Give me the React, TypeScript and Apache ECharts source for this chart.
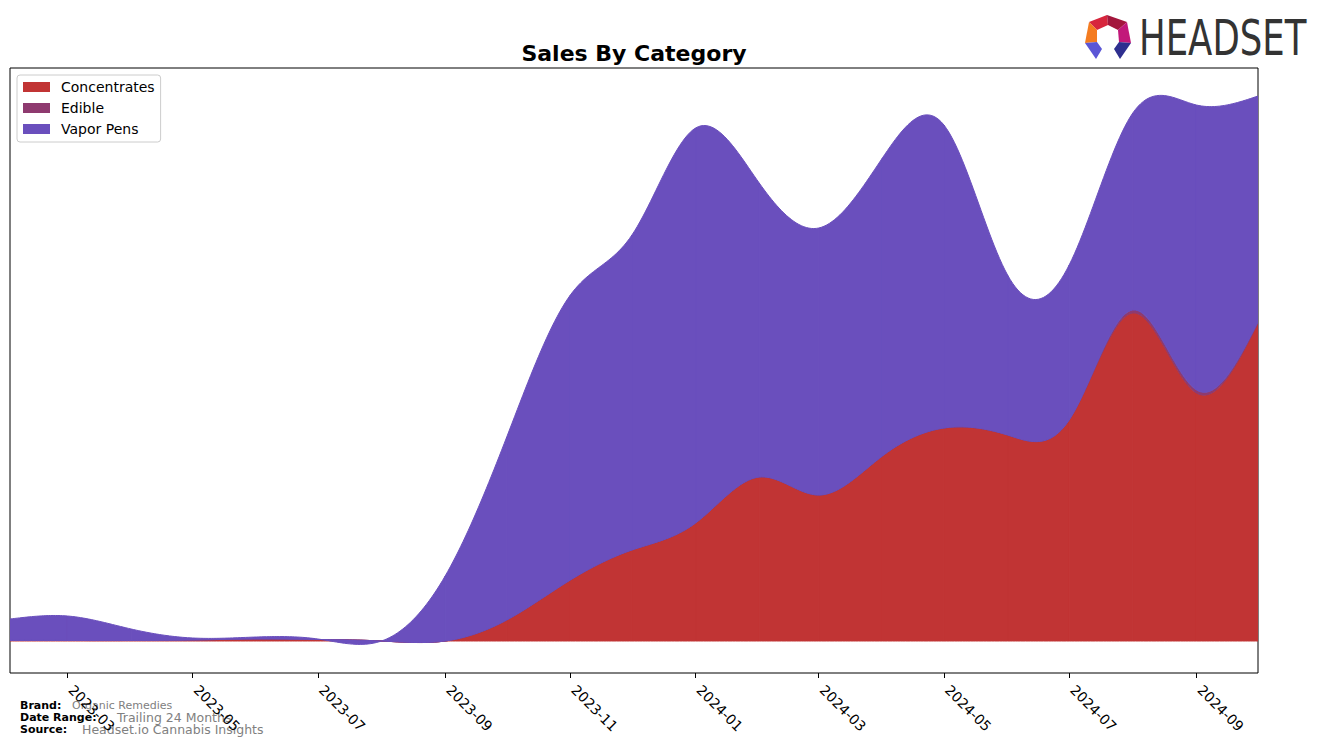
import React, { useEffect, useRef } from "react";
import * as echarts from "echarts";

const months = [
  "2023-02", "2023-03", "2023-04", "2023-05", "2023-06", "2023-07", "2023-08",
  "2023-09", "2023-10", "2023-11", "2023-12", "2024-01", "2024-02", "2024-03",
  "2024-04", "2024-05", "2024-06", "2024-07", "2024-08", "2024-09", "2024-10",
];
const concentrates = [0.5, 0.5, 0.5, 1, 2, 1.5, 0, 0, 21, 61, 91, 118, 164, 146, 185, 213, 206, 221, 328, 248, 318];
const edible = [0, 0, 0, 0, 0, 0, 0, 0, 0, 0, 0, 0, 0, 0, 0, 0, 0, 0, 3, 3, 1];
const vaporPens = [21.5, 24.5, 11.5, 2, 2, 0.5, 0, 65, 183, 285, 315, 395, 294, 267, 298, 303, 160, 155, 197, 285, 226];
const tickLabels = ["2023-03", "2023-05", "2023-07", "2023-09", "2023-11", "2024-01", "2024-03", "2024-05", "2024-07", "2024-09"];

const categoryNames = ["Concentrates", "Edible", "Vapor Pens"];
const categoryColors = ["#c13434", "#8e3a6f", "#6a4fbd"];

const toTime = (m: string) => {
  const [y, mo] = m.split("-").map(Number);
  return Date.UTC(y, mo - 1, 1);
};

// natural cubic spline second derivatives
function splineM(xs: number[], ys: number[]): number[] {
  const n = xs.length;
  const h: number[] = [];
  for (let i = 0; i < n - 1; i++) h.push(xs[i + 1] - xs[i]);
  const A: number[][] = Array.from({ length: n }, () => new Array(n + 1).fill(0));
  A[0][0] = 1;
  for (let i = 1; i < n - 1; i++) {
    A[i][i - 1] = h[i - 1];
    A[i][i] = 2 * (h[i - 1] + h[i]);
    A[i][i + 1] = h[i];
    A[i][n] = 6 * ((ys[i + 1] - ys[i]) / h[i] - (ys[i] - ys[i - 1]) / h[i - 1]);
  }
  A[n - 1][n - 1] = 1;
  for (let c = 0; c < n; c++) {
    let p = c;
    for (let r = c + 1; r < n; r++) if (Math.abs(A[r][c]) > Math.abs(A[p][c])) p = r;
    [A[c], A[p]] = [A[p], A[c]];
    for (let r = 0; r < n; r++) {
      if (r === c) continue;
      const f = A[r][c] / A[c][c];
      if (f === 0) continue;
      for (let k = c; k <= n; k++) A[r][k] -= f * A[c][k];
    }
  }
  return A.map((row, i) => row[n] / row[i]);
}

function splineAt(xs: number[], ys: number[], M: number[], i: number, x: number): number {
  const h = xs[i + 1] - xs[i];
  const a = xs[i + 1] - x;
  const b = x - xs[i];
  return (
    (M[i] * a * a * a) / (6 * h) +
    (M[i + 1] * b * b * b) / (6 * h) +
    (ys[i] / h - (M[i] * h) / 6) * a +
    (ys[i + 1] / h - (M[i + 1] * h) / 6) * b
  );
}

export default function App() {
  const ref = useRef<HTMLDivElement>(null);
  useEffect(() => {
    if (!ref.current) return;
    const chart = echarts.init(ref.current, undefined, { renderer: "svg" });
    const seriesData = [concentrates, edible, vaporPens];
    const font = '"DejaVu Sans", sans-serif';
    const tickValues = tickLabels.map(toTime);
    const times = months.map(toTime);
    const xMin = times[0];
    const xMax = times[times.length - 1];
    const xs = times.map((t) => t / 86400000);

    // cumulative boundaries for stacking
    const cum: number[][] = [];
    seriesData.forEach((arr, k) => {
      cum.push(arr.map((v, j) => v + (k > 0 ? cum[k - 1][j] : 0)));
    });
    const Ms = cum.map((ys) => splineM(xs, ys));
    const STEPS = 24;

    const series = categoryNames.map((name, k) => ({
      name,
      type: "custom",
      xAxisIndex: 0,
      clip: true,
      itemStyle: { color: categoryColors[k] },
      encode: { x: 0, y: 1 },
      data: months.map((m, j) => [times[j], seriesData[k][j]]),
      renderItem: (params: any, api: any) => {
        const i = params.dataIndex;
        if (i >= times.length - 1) return null;
        const upper: number[][] = [];
        const lower: number[][] = [];
        for (let s = 0; s <= STEPS; s++) {
          const x = xs[i] + ((xs[i + 1] - xs[i]) * s) / STEPS;
          const t = x * 86400000;
          const yu = splineAt(xs, cum[k], Ms[k], i, x);
          const yl = k > 0 ? splineAt(xs, cum[k - 1], Ms[k - 1], i, x) : 0;
          upper.push(api.coord([t, yu]));
          lower.push(api.coord([t, yl]));
        }
        const points = upper.concat(lower.reverse());
        return {
          type: "polygon",
          shape: { points },
          style: { fill: categoryColors[k], stroke: categoryColors[k], lineWidth: 1 },
        };
      },
    }));

    chart.setOption({
      animation: false,
      backgroundColor: "#ffffff",
      grid: {
        left: 10,
        top: 68,
        width: 1248,
        height: 605,
        show: true,
        borderColor: "#000",
        borderWidth: 1,
        backgroundColor: "#fff",
        containLabel: false,
      },
      legend: {
        orient: "vertical",
        left: 17,
        top: 75,
        padding: [5, 6, 6, 6],
        itemGap: 7,
        itemWidth: 27,
        itemHeight: 10,
        icon: "rect",
        borderColor: "#cccccc",
        borderWidth: 1,
        borderRadius: 3,
        backgroundColor: "rgba(255,255,255,0.8)",
        textStyle: { fontFamily: font, fontSize: 14, color: "#000", padding: [0, 0, 0, 6] },
        data: categoryNames,
      },
      xAxis: [
        {
          type: "time",
          min: xMin,
          max: xMax,
          axisLine: { show: false },
          axisTick: { show: false },
          axisLabel: { show: false },
          splitLine: { show: false },
        },
        {
          type: "value",
          position: "bottom",
          min: xMin,
          max: xMax,
          axisLine: { show: false },
          splitLine: { show: false },
          axisTick: {
            show: true,
            customValues: tickValues,
            length: 5,
            lineStyle: { color: "#000", width: 1 },
          },
          axisLabel: {
            customValues: tickValues,
            rotate: -45,
            margin: 11,
            padding: [0, 0, 0, 5],
            fontFamily: font,
            fontSize: 14,
            color: "#000",
            formatter: (v: number) => {
              const d = new Date(v);
              const mm = String(d.getUTCMonth() + 1).padStart(2, "0");
              return `${d.getUTCFullYear()}-${mm}`;
            },
          },
        },
      ],
      yAxis: {
        type: "value",
        min: -32,
        max: 573,
        show: false,
        splitLine: { show: false },
      },
      series,
      graphic: [
        {
          type: "text",
          x: 634,
          y: 53,
          style: {
            text: "Sales By Category",
            font: `bold 22px ${font}`,
            fill: "#000",
            textAlign: "center",
            textVerticalAlign: "middle",
          },
        },
        { type: "polygon", shape: { points: [[1089, 22], [1107, 15], [1108, 25], [1097, 30]] }, style: { fill: "#d7263d" } },
        { type: "polygon", shape: { points: [[1107, 15], [1127, 22], [1118, 30], [1108, 25]] }, style: { fill: "#a3163c" } },
        { type: "polygon", shape: { points: [[1089, 22], [1097, 30], [1097, 42], [1085, 43]] }, style: { fill: "#f47c20" } },
        { type: "polygon", shape: { points: [[1127, 22], [1131, 43], [1119, 42], [1118, 30]] }, style: { fill: "#c2187a" } },
        { type: "polygon", shape: { points: [[1085, 43], [1097, 42], [1102, 49], [1096, 59]] }, style: { fill: "#5b56d6" } },
        { type: "polygon", shape: { points: [[1119, 42], [1131, 43], [1120, 59], [1114, 49]] }, style: { fill: "#2e2f8f" } },
        {
          type: "text",
          x: 1139,
          y: 38,
          scaleX: 0.71,
          style: {
            text: "HEADSET",
            font: `50px ${font}`,
            fill: "#333333",
            textAlign: "left",
            textVerticalAlign: "middle",
          },
        },
        { type: "text", x: 20, y: 705, style: { text: "Brand:", font: `bold 11px ${font}`, fill: "#000", textVerticalAlign: "middle" } },
        { type: "text", x: 72, y: 705, style: { text: "Organic Remedies", font: `11px ${font}`, fill: "#808080", textVerticalAlign: "middle" } },
        { type: "text", x: 20, y: 717, style: { text: "Date Range:", font: `bold 11px ${font}`, fill: "#000", textVerticalAlign: "middle" } },
        { type: "text", x: 117, y: 717, style: { text: "Trailing 24 Months", font: `12.5px ${font}`, fill: "#808080", textVerticalAlign: "middle" } },
        { type: "text", x: 20, y: 729, style: { text: "Source:", font: `bold 11px ${font}`, fill: "#000", textVerticalAlign: "middle" } },
        { type: "text", x: 82, y: 729, style: { text: "Headset.io Cannabis Insights", font: `12.5px ${font}`, fill: "#808080", textVerticalAlign: "middle" } },
      ],
    });
    return () => chart.dispose();
  }, []);
  return <div ref={ref} style={{ position: "absolute", left: 0, top: 0, width: 1322, height: 746 }} />;
}
